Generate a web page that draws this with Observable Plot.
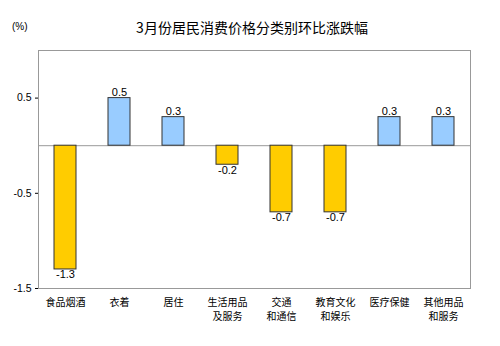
<!DOCTYPE html>
<html>
<head>
<meta charset="utf-8">
<script src="https://cdn.jsdelivr.net/npm/d3@7"></script>
<script src="https://cdn.jsdelivr.net/npm/@observablehq/plot@0.6"></script>
<style>
  html, body { margin: 0; padding: 0; background: #fff; }
  #wrap { position: relative; width: 500px; height: 346px; font-family: "Noto Sans CJK SC", "DejaVu Sans", sans-serif; }
  #title { position: absolute; top: 17px; left: 0; width: 504px; text-align: center; font-size: 14px; color: #000; }
  #unit { position: absolute; top: 21px; left: 12px; font-size: 10px; color: #000; font-family: Arial, "Liberation Sans", sans-serif; }
  #chart { position: absolute; top: 0; left: 0; }
</style>
</head>
<body>
<div id="wrap">
  <div id="chart"></div>
  <div id="title">3月份居民消费价格分类别环比涨跌幅</div>
  <div id="unit">(%)</div>
</div>
<script>
const categories = ["食品烟酒", "衣着", "居住", "生活用品\n及服务", "交通\n和通信", "教育文化\n和娱乐", "医疗保健", "其他用品\n和服务"];
const values = [-1.3, 0.5, 0.3, -0.2, -0.7, -0.7, 0.3, 0.3];
const yTicks = [0.5, -0.5, -1.5];

const data = categories.map((c, i) => ({cat: c, v: values[i]}));
const fmt = d => String(d);
const line = i => d => d.split("\n")[i] || "";

const chart = Plot.plot({
  width: 500,
  height: 346,
  marginTop: 50,
  marginBottom: 58,
  marginLeft: 38,
  marginRight: 30,
  style: {fontFamily: '"Noto Sans CJK SC", sans-serif', fontSize: "10px", color: "#000", background: "transparent"},
  x: {domain: categories, paddingInner: 0.593, paddingOuter: 0.296, label: null},
  y: {domain: [-1.5, 1], label: null},
  marks: [
    Plot.frame({stroke: "#999"}),
    Plot.ruleY([0], {stroke: "#999"}),
    Plot.axisX({tickSize: 0, tickPadding: 10, tickFormat: line(0), label: null, fontSize: 10}),
    Plot.axisX({tickSize: 0, tickPadding: 24.8, tickFormat: line(1), label: null, fontSize: 10}),
    Plot.axisY(yTicks, {tickSize: 3, tickPadding: 4, tickFormat: fmt, label: null, fontFamily: 'Arial, "Liberation Sans", sans-serif', fontSize: 10.5}),
    Plot.barY(data, {x: "cat", y: "v", fill: d => d.v < 0 ? "#FFCC00" : "#99CCFF", stroke: "#333", strokeWidth: 1}),
    Plot.text(data.filter(d => d.v >= 0), {x: "cat", y: "v", text: d => fmt(d.v), lineAnchor: "bottom", dy: -2, fontFamily: 'Arial, "Liberation Sans", sans-serif', fontSize: 11, fill: "#000"}),
    Plot.text(data.filter(d => d.v < 0), {x: "cat", y: "v", text: d => fmt(d.v), lineAnchor: "top", dy: 1, fontFamily: 'Arial, "Liberation Sans", sans-serif', fontSize: 11, fill: "#000"})
  ]
});
document.getElementById("chart").appendChild(chart);
</script>
</body>
</html>
